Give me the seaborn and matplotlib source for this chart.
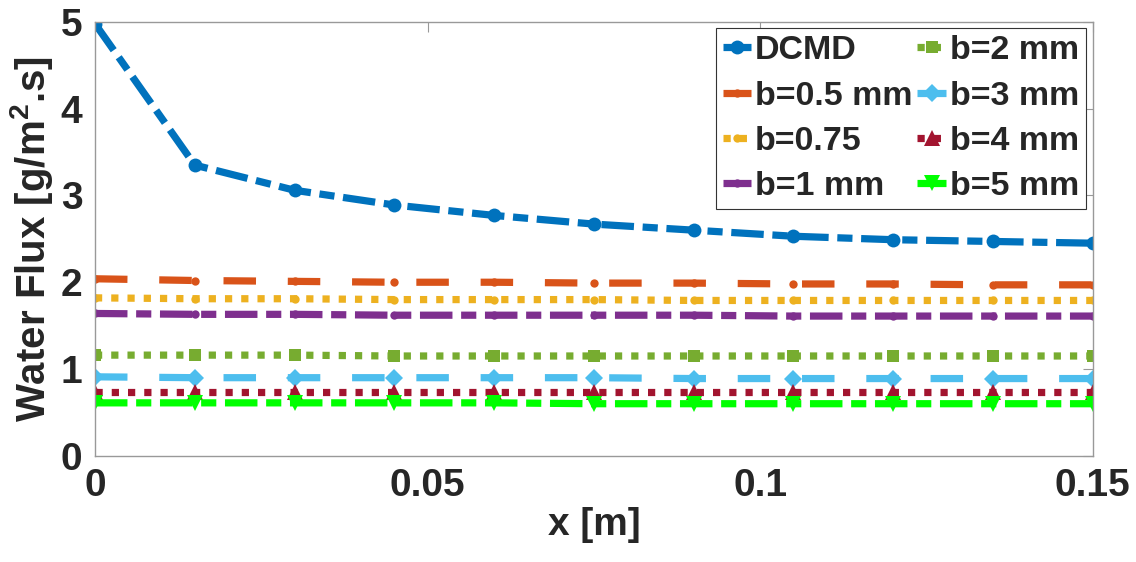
import pandas as pd
import seaborn as sns
import matplotlib.pyplot as plt

# Data
x_m = [0, 0.015, 0.03, 0.045, 0.06, 0.075, 0.09, 0.105, 0.12, 0.135, 0.15]
dcmd = [4.98, 3.35, 3.06, 2.89, 2.77, 2.67, 2.60, 2.53, 2.49, 2.47, 2.45]
b_05 = [2.04, 2.02, 2.01, 2.00, 2.00, 1.99, 1.99, 1.98, 1.98, 1.97, 1.97]
b_075 = [1.82, 1.81, 1.81, 1.80, 1.80, 1.80, 1.79, 1.79, 1.79, 1.79, 1.79]
b_1 = [1.64, 1.63, 1.63, 1.62, 1.62, 1.62, 1.62, 1.61, 1.61, 1.61, 1.61]
b_2 = [1.16, 1.16, 1.16, 1.15, 1.15, 1.15, 1.15, 1.15, 1.15, 1.15, 1.15]
b_3 = [0.91, 0.90, 0.90, 0.90, 0.90, 0.90, 0.89, 0.89, 0.89, 0.89, 0.89]
b_4 = [0.73, 0.73, 0.73, 0.73, 0.73, 0.73, 0.73, 0.73, 0.73, 0.73, 0.73]
b_5 = [0.61, 0.61, 0.61, 0.61, 0.61, 0.60, 0.60, 0.60, 0.60, 0.60, 0.60]

labels = ['DCMD', 'b=0.5 mm', 'b=0.75', 'b=1 mm', 'b=2 mm', 'b=3 mm', 'b=4 mm', 'b=5 mm']
series = [dcmd, b_05, b_075, b_1, b_2, b_3, b_4, b_5]

# MATLAB-like colours
colors = ['#0072BD', '#D95319', '#EDB120', '#7E2F8E', '#77AC30', '#4DBEEE', '#A2142F', '#00FF00']
dash_dot = (4.5, 1.2, 2.1, 1.2)
dashed = (4.5, 4.4)
dotted = (1.0, 1.25)
styles = [dash_dot, dashed, dotted, dash_dot, dotted, dashed, dotted, dash_dot]
markers = ['o', 'o', 'o', 'o', 's', 'D', '^', 'v']
msizes = [10, 6, 6, 6, 9, 9, 12, 12]

df = pd.DataFrame({
    'x': x_m * len(labels),
    'flux': [v for s in series for v in s],
    'case': [lab for lab in labels for _ in x_m],
})

sns.set_style('white')
plt.rcParams['font.family'] = ['Liberation Sans', 'DejaVu Sans']
plt.rcParams['font.weight'] = 'bold'
plt.rcParams['mathtext.fontset'] = 'custom'
plt.rcParams['mathtext.bf'] = 'Liberation Sans:bold'
plt.rcParams['mathtext.rm'] = 'Liberation Sans:bold'
plt.rcParams['mathtext.default'] = 'bf'

fig, ax = plt.subplots(figsize=(11.36, 5.62), dpi=100)
fig.subplots_adjust(left=0.0836, right=0.962, bottom=0.189, top=0.961)

for lab, col, ls, mk, ms in zip(labels, colors, styles, markers, msizes):
    sub = df[df['case'] == lab]
    sns.lineplot(data=sub, x='x', y='flux', ax=ax, label=lab, color=col,
                 linewidth=5.2, dashes=False, linestyle=(0, ls), marker=mk,
                 markersize=ms, markeredgecolor=col, markeredgewidth=0)

ax.set_xlim(0, 0.15)
ax.set_ylim(0, 5)
ax.set_xticks([0, 0.05, 0.1, 0.15])
ax.set_xticklabels(['0', '0.05', '0.1', '0.15'])
ax.set_yticks([0, 1, 2, 3, 4, 5])

for sp in ax.spines.values():
    sp.set_visible(True)
    sp.set_color('#999999')
    sp.set_linewidth(1)

ax.tick_params(direction='in', length=7, width=0.8, color='#999999',
               top=True, right=True, labelsize=28, labelcolor='#262626', pad=9)
for t in ax.get_xticklabels() + ax.get_yticklabels():
    t.set_fontweight('bold')

ax.set_xlabel('x [m]', fontsize=28, fontweight='bold', color='#262626', labelpad=2)
ax.set_ylabel('Water Flux [g/m$^2$.s]', fontsize=29, fontweight='bold', color='#262626', labelpad=4)

leg = ax.legend(loc='upper right', bbox_to_anchor=(0.993, 0.985), ncol=2,
                fontsize=24.5, frameon=True, fancybox=False, framealpha=1,
                edgecolor='#333333', handlelength=0.85, handletextpad=0.1,
                columnspacing=0.15, labelspacing=0.42, borderpad=0.2, borderaxespad=0)
leg.get_frame().set_linewidth(0.8)
for t in leg.get_texts():
    t.set_fontweight('bold')

fig.savefig('out.png', dpi=100)
